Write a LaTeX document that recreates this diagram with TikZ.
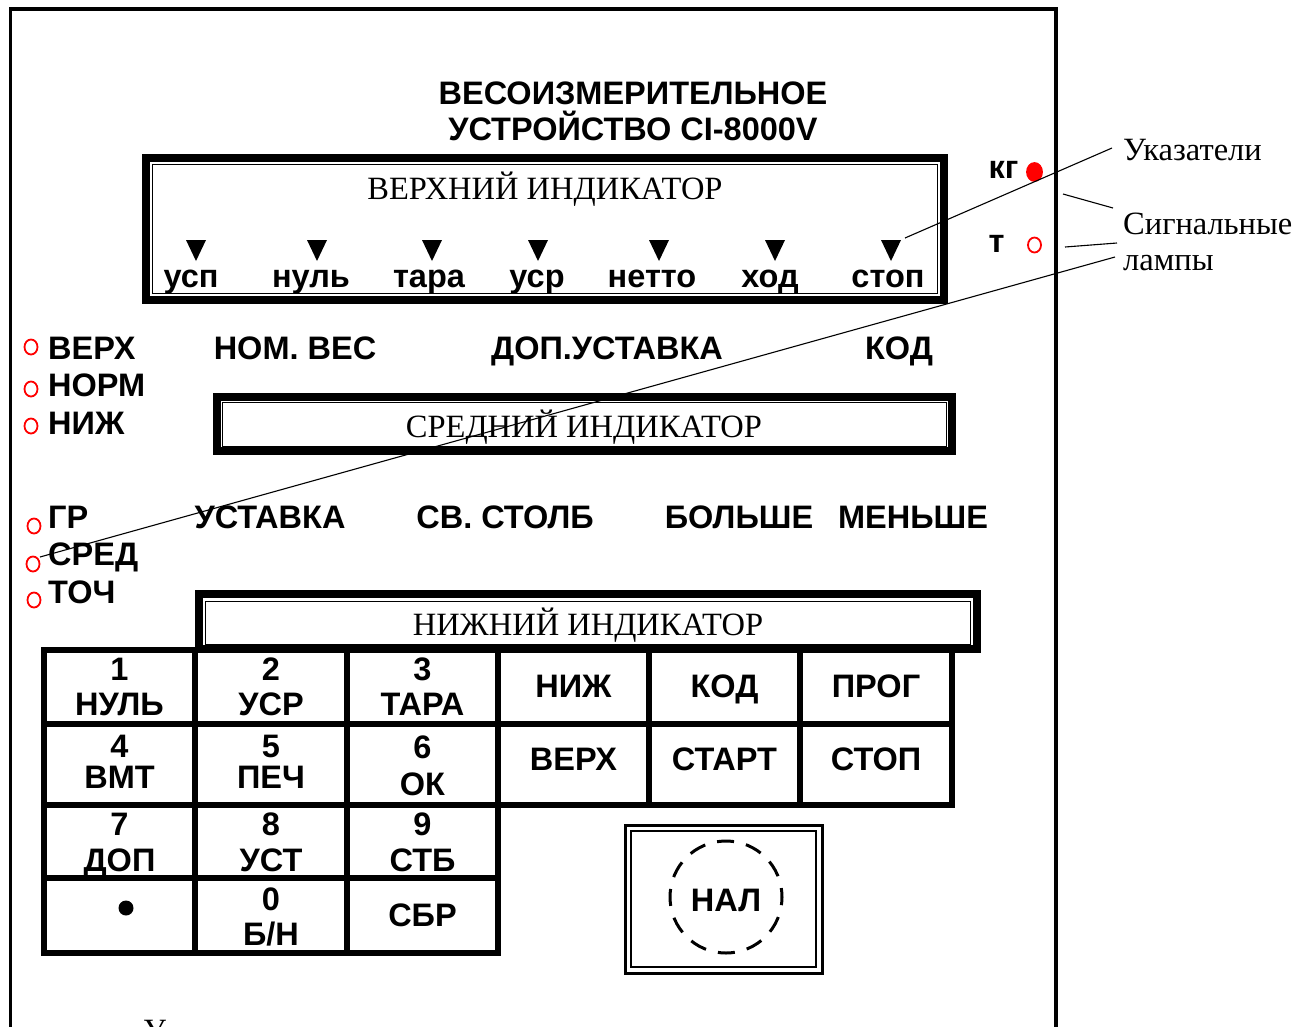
\documentclass[tikz,border=0pt]{standalone}
\usepackage{fontspec}
\setmainfont{Liberation Serif}
\setsansfont{Liberation Sans}
\usetikzlibrary{shapes.geometric}
\begin{document}
\begin{tikzpicture}[x=1pt,y=-1pt,
  sb/.style={font=\fontsize{32.5}{38}\selectfont\sffamily\bfseries, inner sep=0pt, anchor=base},
  sr/.style={font=\fontsize{32.5}{38}\selectfont\rmfamily, inner sep=0pt, anchor=base},
  lampoff/.style={draw=red, line width=1.8pt, ellipse, minimum width=13pt, minimum height=15pt, inner sep=0pt},
  lampon/.style={lampoff, fill=red, minimum width=15pt, minimum height=18pt},
  thickfr/.style={line width=8pt},
  thinfr/.style={line width=1.5pt},
  keyline/.style={line width=5.5pt, line cap=rect},
  leader/.style={line width=1.1pt},
  ptr/.style={fill=black}
]
\useasboundingbox (0,0) rectangle (1306,1026);
\clip (0,0) rectangle (1306,1026);
\fill[white] (0,0) rectangle (1306,1026);
% outer panel
\draw[line width=3.5pt] (10.5,1060) -- (10.5,9) -- (1056,9) -- (1056,1060);

% title
\node[sb] (title1) at (633,104) {ВЕСОИЗМЕРИТЕЛЬНОЕ};
\node[sb] (title2) at (633,140) {УСТРОЙСТВО CI-8000V};

% upper indicator
\draw[thickfr] (146,158) rectangle (944,300);
\draw[thinfr] (152.5,164.5) rectangle (937.5,293.5);
\node[sr] (upind) at (545,199) {ВЕРХНИЙ ИНДИКАТОР};
\foreach \x in {196,317,432,538,659,775,891}
  \fill[ptr] (\x-10,240) -- (\x+10,240) -- (\x,261) -- cycle;
\node[sb] (p1) at (191,287) {усп};
\node[sb] (p2) at (311,287) {нуль};
\node[sb] (p3) at (429,287) {тара};
\node[sb] (p4) at (537,287) {уср};
\node[sb] (p5) at (652,287) {нетто};
\node[sb] (p6) at (770,287) {ход};
\node[sb] (p7) at (888,287) {стоп};
\coordinate (stoptri) at (905,238);

% unit lamps
\node[sb] (kg) at (1003.5,178) {кг};
\node[sb] (tn) at (996.5,252) {т};
\node[lampon] (lkg) at (1034.5,172) {};
\node[lampoff] (ltn) at (1034.5,245) {};

% left lamps and labels
\node[lampoff] (l1) at (31,347) {};
\node[lampoff] (l2) at (31,389) {};
\node[lampoff] (l3) at (31,426) {};
\node[lampoff] (l4) at (34,526) {};
\node[lampoff] (l5) at (33,564) {};
\node[lampoff] (l6) at (34,600) {};
\node[sb, anchor=base west] (v1) at (48,359) {ВЕРХ};
\node[sb, anchor=base west] (v2) at (48,396) {НОРМ};
\node[sb, anchor=base west] (v3) at (48,434) {НИЖ};
\node[sb, anchor=base west] (v4) at (48,528) {ГР};
\node[sb, anchor=base west] (v5) at (48,565) {СРЕД};
\node[sb, anchor=base west] (v6) at (48,603) {ТОЧ};

% labels above middle indicator
\node[sb] (h1) at (295,359) {НОМ. ВЕС};
\node[sb] (h2) at (607,359) {ДОП.УСТАВКА};
\node[sb] (h3) at (899,359) {КОД};

% middle indicator
\draw[thickfr] (217,397) rectangle (952,451);
\draw[thinfr] (222.5,402.5) rectangle (946.5,446.5);
\node[sr] (midind) at (584,437) {СРЕДНИЙ ИНДИКАТОР};

% labels above lower indicator
\node[sb] (g1) at (270,528) {УСТАВКА};
\node[sb] (g2) at (505,528) {СВ. СТОЛБ};
\node[sb] (g3) at (739,528) {БОЛЬШЕ};
\node[sb] (g4) at (913,528) {МЕНЬШЕ};

% lower indicator
\draw[thickfr] (199,594) rectangle (977,649);
\draw[thinfr] (205.5,601.5) rectangle (970.5,645);
\node[sr] (lowind) at (588,635) {НИЖНИЙ ИНДИКАТОР};

% keypad grid
\draw[keyline] (44,650) -- (952,650);
\draw[keyline] (44,724) -- (952,724);
\draw[keyline] (44,805) -- (952,805);
\draw[keyline] (44,878) -- (498,878);
\draw[keyline] (44,953) -- (498,953);
\draw[keyline] (44,650) -- (44,953);
\draw[keyline] (195,650) -- (195,953);
\draw[keyline] (347,650) -- (347,953);
\draw[keyline] (498,650) -- (498,953);
\draw[keyline] (649,650) -- (649,805);
\draw[keyline] (800,650) -- (800,805);
\draw[keyline] (952,650) -- (952,805);

% keys row 1
\node[sb] (k1a) at (119.5,680) {1};
\node[sb] (k1b) at (119.5,715) {НУЛЬ};
\node[sb] (k2a) at (271,680) {2};
\node[sb] (k2b) at (271,715) {УСР};
\node[sb] (k3a) at (422.5,680) {3};
\node[sb] (k3b) at (422.5,715) {ТАРА};
\node[sb] (k4) at (573.5,697) {НИЖ};
\node[sb] (k5) at (724.5,697) {КОД};
\node[sb] (k6) at (876,697) {ПРОГ};
% keys row 2
\node[sb] (k7a) at (119.5,757) {4};
\node[sb] (k7b) at (119.5,788) {ВМТ};
\node[sb] (k8a) at (271,757) {5};
\node[sb] (k8b) at (271,788) {ПЕЧ};
\node[sb] (k9a) at (422.5,758) {6};
\node[sb] (k9b) at (422.5,795) {ОК};
\node[sb] (k10) at (573.5,770) {ВЕРХ};
\node[sb] (k11) at (724.5,770) {СТАРТ};
\node[sb] (k12) at (876,770) {СТОП};
% keys row 3
\node[sb] (k13a) at (119.5,835) {7};
\node[sb] (k13b) at (119.5,871) {ДОП};
\node[sb] (k14a) at (271,835) {8};
\node[sb] (k14b) at (271,871) {УСТ};
\node[sb] (k15a) at (422.5,835) {9};
\node[sb] (k15b) at (422.5,871) {СТБ};
% keys row 4
\node[circle, fill=black, minimum size=15pt, inner sep=0pt] (kdot) at (126,908) {};
\node[sb] (k17a) at (271,910) {0};
\node[sb] (k17b) at (271,945) {Б/Н};
\node[sb] (k18) at (422.5,926) {СБР};

% NAL button
\draw[line width=3pt] (625,825) rectangle (822,973);
\draw[thinfr] (631,831) rectangle (816,967);
\draw[line width=3pt, dash pattern=on 17pt off 12.3pt, dash phase=8pt] (726,897) circle [radius=56pt];
\node[sb] (nal) at (726,911) {НАЛ};

% callout labels
\node[sr, anchor=base west] (ukaz) at (1123,160) {Указатели};
\node[sr, anchor=base west] (sig1) at (1123,234) {Сигнальные};
\node[sr, anchor=base west] (sig2) at (1123,270) {лампы};
\coordinate (ukazS) at (1112,148);
\coordinate (sigA) at (1113,208);
\coordinate (sigAe) at (1063,194);
\coordinate (sigB) at (1117,243);
\coordinate (sigBe) at (1065,247);
\coordinate (sigC) at (1115,257);
\coordinate (sredlamp) at (40,557);
\draw[leader] (ukazS) -- (stoptri);
\draw[leader] (sigA) -- (sigAe);
\draw[leader] (sigB) -- (sigBe);
\draw[leader] (sigC) -- (sredlamp);

% cut-off caption
\node[sr, anchor=base west] (capt) at (143,1041) {У};
\end{tikzpicture}
\end{document}
